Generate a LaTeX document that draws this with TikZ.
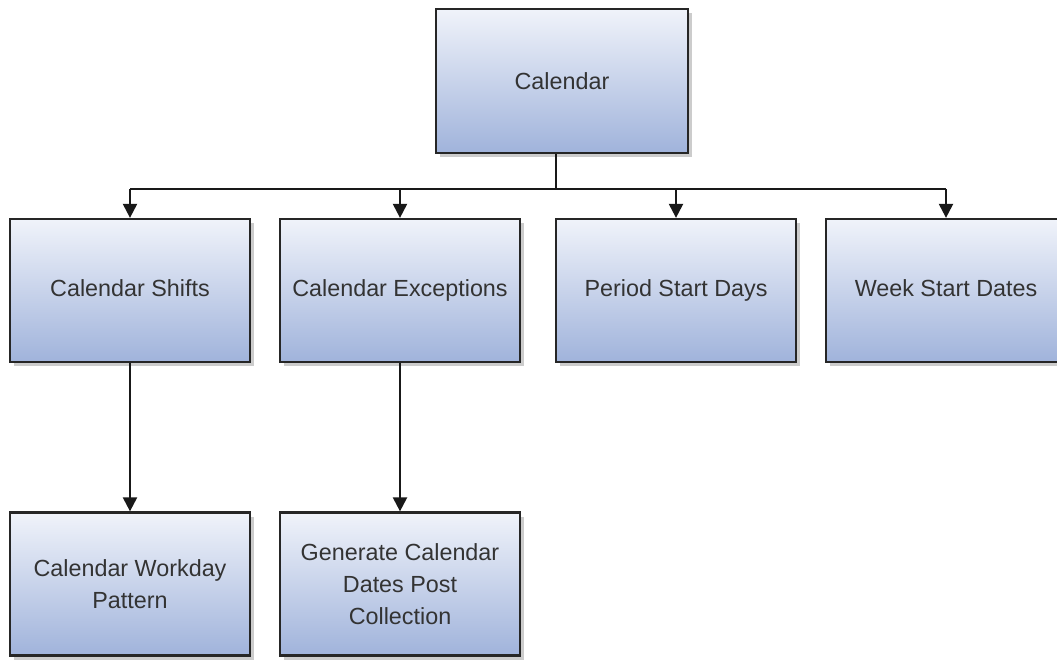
\documentclass[tikz,border=0pt]{standalone}
\usepackage{fontspec}
\setmainfont{Liberation Sans}
\usetikzlibrary{arrows.meta,shadows}

\definecolor{boxtop}{HTML}{F0F3FA}
\definecolor{boxbot}{HTML}{A0B3DB}
\definecolor{textgrey}{HTML}{333333}

\begin{document}
\begin{tikzpicture}[x=0.025cm, y=-0.025cm, align=center,
	box/.style = {draw=black!85, line width=1.6pt, top color=boxtop, bottom color=boxbot,
		minimum width=6cm, minimum height=3.575cm, inner sep=2pt, text=textgrey,
		font=\fontsize{16.6}{23}\selectfont,
		drop shadow={shadow xshift=3pt, shadow yshift=-3pt, fill=black, opacity=0.2}},
	link/.style = {line width=1.6pt, black!90},
	arr/.style = {link, -{Triangle[width=10pt,length=10pt]}}]
	\useasboundingbox (0,0) rectangle (1057,660);
	\node[box, minimum width=6.3cm, minimum height=3.6cm] (cal) at (562,81) {Calendar};
	\node[box] (shifts) at (130,290.5) {Calendar Shifts\strut};
	\node[box] (except) at (400,290.5) {Calendar Exceptions\strut};
	\node[box] (period) at (676,290.5) {Period Start Days\strut};
	\node[box] (week) at (946,290.5) {Week Start Dates\strut};
	\node[box] (workday) at (130,584) {Calendar Workday\\Pattern};
	\node[box] (generate) at (400,584) {Generate Calendar\\Dates Post\\Collection};
	\coordinate (j) at (556,189);
	\draw[link] (j |- cal.south) -- (j);
	\draw[link] (j -| shifts) -- (j -| week);
	\draw[arr] (j -| shifts) -- (shifts);
	\draw[arr] (j -| except) -- (except);
	\draw[arr] (j -| period) -- (period);
	\draw[arr] (j -| week) -- (week);
	\draw[arr] (shifts) -- (workday);
	\draw[arr] (except) -- (generate);
\end{tikzpicture}
\end{document}
